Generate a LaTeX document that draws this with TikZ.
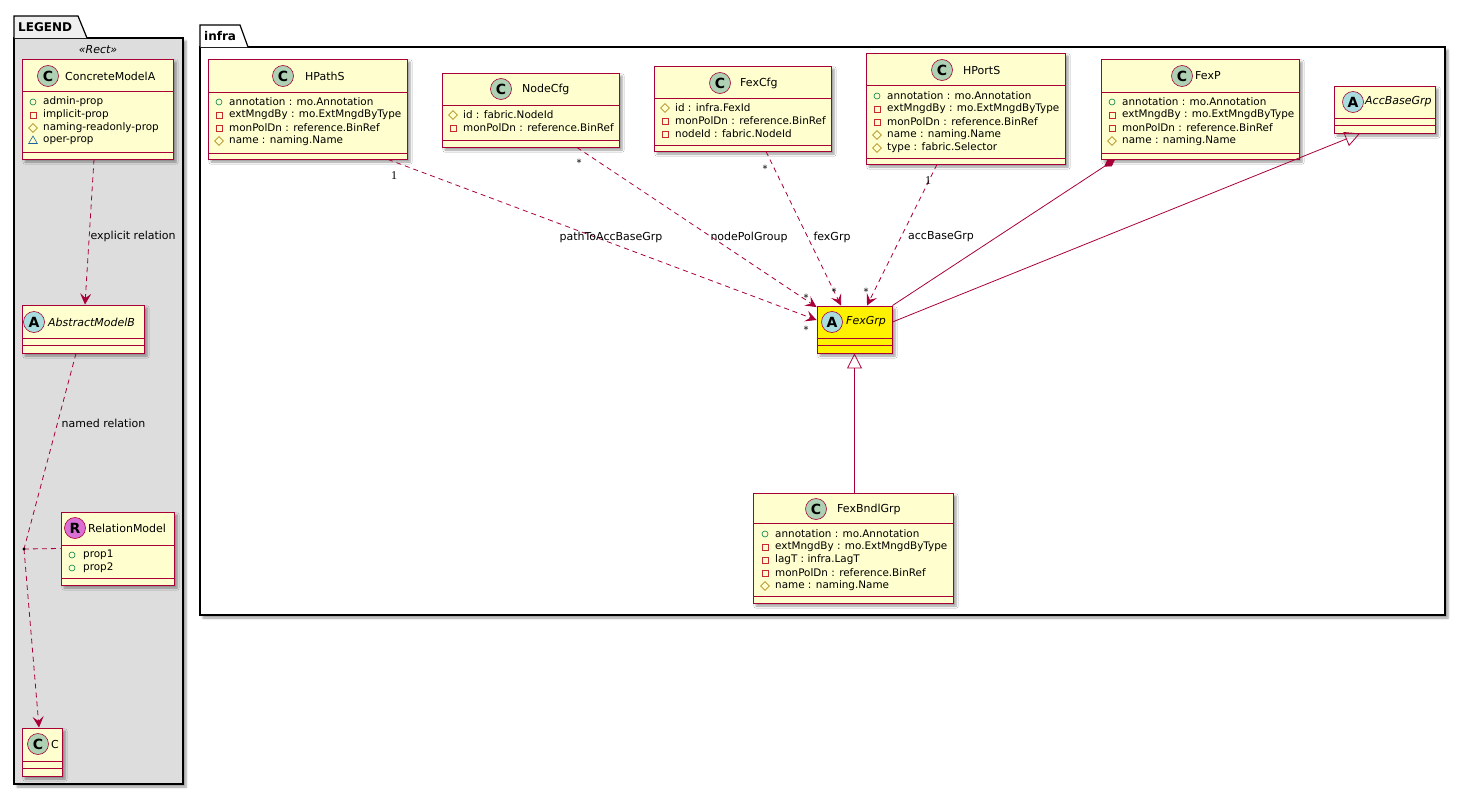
\documentclass[tikz,border=0pt]{standalone}
\usepackage{fontspec}
\setmainfont{DejaVu Sans}
\newfontfamily\multserif{Liberation Serif}
\usetikzlibrary{arrows.meta,fit,shapes.geometric,shadows.blur}
\definecolor{umlred}{HTML}{A80036}
\definecolor{umlfill}{HTML}{FEFECE}
\definecolor{spotc}{HTML}{ADD1B2}
\definecolor{spota}{HTML}{A9DCDF}
\definecolor{spotr}{HTML}{DA70D6}
\definecolor{pubcol}{HTML}{038048}
\definecolor{privcol}{HTML}{C82930}
\definecolor{protcol}{HTML}{B38D22}
\definecolor{pkgcol}{HTML}{1963A0}
\definecolor{legendgray}{HTML}{DDDDDD}
\definecolor{pkgtab}{HTML}{EFEFEF}
\tikzset{
	classbox/.style={draw=umlred, fill=umlfill, line width=0.9pt, inner sep=0pt, blur shadow={shadow xshift=3pt, shadow yshift=-3pt, shadow blur steps=4}},
	pkgbox/.style={draw=black, line width=1.2pt, inner sep=0pt, blur shadow={shadow xshift=3pt, shadow yshift=-3pt, shadow blur steps=4}},
	pkgline/.style={draw=black, line width=1.2pt},
	pkgtitle/.style={anchor=west, inner sep=0pt, font=\bfseries\fontsize{12}{14}\selectfont},
	stereo/.style={inner sep=0pt, font=\itshape\fontsize{11}{13}\selectfont},
	sepline/.style={draw=umlred, line width=0.9pt},
	spot/.style={circle, draw=umlred, line width=0.6pt, minimum size=21pt, inner sep=0pt, font=\bfseries\fontsize{14}{14}\selectfont},
	clname/.style={anchor=west, inner sep=0pt, font=\fontsize{11}{13}\selectfont},
	absname/.style={clname, font=\itshape\fontsize{11}{13}\selectfont},
	member/.style={anchor=west, inner sep=0pt, font=\fontsize{10.4}{12}\selectfont},
	pub/.style={circle, draw=pubcol, line width=0.6pt, minimum size=6pt, inner sep=0pt},
	priv/.style={rectangle, draw=privcol, line width=0.6pt, minimum size=6pt, inner sep=0pt},
	prot/.style={diamond, draw=protcol, line width=0.6pt, minimum size=9pt, inner sep=0pt},
	pkg/.style={regular polygon, regular polygon sides=3, draw=pkgcol, line width=0.6pt, minimum size=10pt, inner sep=0pt},
	depline/.style={draw=umlred, line width=0.8pt, dash pattern=on 5pt off 4pt},
	dep/.style={depline, -{Stealth[length=11pt, width=11pt, inset=4.5pt]}},
	inh/.style={draw=umlred, line width=0.8pt, -{Triangle[open, length=15pt, width=15pt]}},
	comp/.style={draw=umlred, line width=0.8pt, {Diamond[length=13pt, width=8pt]}-},
	elabel/.style={inner sep=0pt, font=\fontsize{11}{13}\selectfont},
	mult/.style={inner sep=0pt, font=\fontsize{10}{12}\selectfont},
	multone/.style={inner sep=0pt, font=\multserif\fontsize{12}{14}\selectfont}
}
\begin{document}
\begin{tikzpicture}[x=1pt, y=-1pt]
	\useasboundingbox (0,0) rectangle (1465,795);

	\node[pkgbox, fill=legendgray, fit={(14,38) (183,784)}] (legend) {};
	\filldraw[pkgline, fill=pkgtab] (14,38) -- (14,16) -- (78,16) -- (87,38);
	\node[pkgtitle] (legend-t) at (18,27) {LEGEND};
	\node[stereo] (legend-s) at (98,50) {«Rect»};

	\node[pkgbox, fill=white, fit={(200,47) (1445,615)}] (infra) {};
	\filldraw[pkgline, fill=white] (200,47) -- (200,25) -- (240,25) -- (248,47);
	\node[pkgtitle] (infra-t) at (204,36) {infra};

	\node[classbox, fit={(22,59) (173,159)}] (concretea) {};
	\draw[sepline] (22,91) -- (173,91) (22,152) -- (173,152);
	\node[spot, fill=spotc] (concretea-c) at (48,76) {C};
	\node[clname] (concretea-n) at (65,76) {ConcreteModelA};
	\foreach \ic/\txt [count=\k] in {pub/admin-prop, priv/implicit-prop, prot/naming-readonly-prop, pkg/oper-prop}
		{\node[\ic] (concretea-i\k) at (33,89+13*\k) {};
		\node[member] (concretea-m\k) at (43,89+13*\k) {\txt};}

	\node[classbox, fit={(22,305) (144,353)}] (absb) {};
	\draw[sepline] (22,338) -- (144,338) (22,345) -- (144,345);
	\node[spot, fill=spota] (absb-c) at (34,322) {A};
	\node[absname] (absb-n) at (48,322) {AbstractModelB};

	\node[classbox, fit={(61,512) (174,585)}] (relm) {};
	\draw[sepline] (61,545) -- (174,545) (61,578) -- (174,578);
	\node[spot, fill=spotr] (relm-c) at (75,528) {R};
	\node[clname] (relm-n) at (88,528) {RelationModel};
	\foreach \txt [count=\k] in {prop1, prop2}
		{\node[pub] (relm-i\k) at (72,542+13*\k) {};
		\node[member] (relm-m\k) at (83,542+13*\k) {\txt};}

	\node[classbox, fit={(22,728) (62,776)}] (cbox) {};
	\draw[sepline] (22,761) -- (62,761) (22,768) -- (62,768);
	\node[spot, fill=spotc] (cbox-c) at (38,744) {C};
	\node[clname] (cbox-n) at (51,744) {C};

	\coordinate (relpt) at (24,549);
	\draw[dep] ([xshift=-3.5pt]concretea.south) -- node[elabel, pos=0.53, anchor=west, xshift=1pt] {explicit relation} ([xshift=2pt]absb.north);
	\draw[depline] ([xshift=-7pt]absb.south) -- node[elabel, pos=0.36, anchor=west, xshift=4pt] {named relation} (relpt);
	\draw[dep] (relpt) -- ([xshift=-3pt]cbox.north);
	\draw[depline] (relpt) -- (relm.west);
	\fill (relpt) circle (1.6pt);

	\node[classbox, fit={(208,59) (407,159)}] (hpaths) {};
	\draw[sepline] (208,92) -- (407,92) (208,153) -- (407,153);
	\node[spot, fill=spotc] (hpaths-c) at (283,76) {C};
	\node[clname] (hpaths-n) at (305,76) {HPathS};
	\foreach \ic/\txt [count=\k] in {pub/annotation : mo.Annotation, priv/extMngdBy : mo.ExtMngdByType, priv/monPolDn : reference.BinRef, prot/name : naming.Name}
		{\node[\ic] (hpaths-i\k) at (219,89+13*\k) {};
		\node[member] (hpaths-m\k) at (229,89+13*\k) {\txt};}

	\node[classbox, fit={(442,73) (619,147)}] (nodecfg) {};
	\draw[sepline] (442,105) -- (619,105) (442,140) -- (619,140);
	\node[spot, fill=spotc] (nodecfg-c) at (501,89) {C};
	\node[clname] (nodecfg-n) at (522,89) {NodeCfg};
	\foreach \ic/\txt [count=\k] in {prot/id : fabric.NodeId, priv/monPolDn : reference.BinRef}
		{\node[\ic] (nodecfg-i\k) at (453,102+13*\k) {};
		\node[member] (nodecfg-m\k) at (463,102+13*\k) {\txt};}

	\node[classbox, fit={(654,66) (831,151)}] (fexcfg) {};
	\draw[sepline] (654,98) -- (831,98) (654,145) -- (831,145);
	\node[spot, fill=spotc] (fexcfg-c) at (720,83) {C};
	\node[clname] (fexcfg-n) at (740,83) {FexCfg};
	\foreach \ic/\txt [count=\k] in {prot/id : infra.FexId, priv/monPolDn : reference.BinRef, priv/nodeId : fabric.NodeId}
		{\node[\ic] (fexcfg-i\k) at (665,95+13*\k) {};
		\node[member] (fexcfg-m\k) at (675,95+13*\k) {\txt};}

	\node[classbox, fit={(866,53) (1065,164)}] (hports) {};
	\draw[sepline] (866,85) -- (1065,85) (866,158) -- (1065,158);
	\node[spot, fill=spotc] (hports-c) at (942,70) {C};
	\node[clname] (hports-n) at (963,70) {HPortS};
	\foreach \ic/\txt [count=\k] in {pub/annotation : mo.Annotation, priv/extMngdBy : mo.ExtMngdByType, priv/monPolDn : reference.BinRef, prot/name : naming.Name, prot/type : fabric.Selector}
		{\node[\ic] (hports-i\k) at (877,83+13*\k) {};
		\node[member] (hports-m\k) at (887,83+13*\k) {\txt};}

	\node[classbox, fit={(1101,59) (1299,159)}] (fexp) {};
	\draw[sepline] (1101,92) -- (1299,92) (1101,153) -- (1299,153);
	\node[spot, fill=spotc] (fexp-c) at (1182,76) {C};
	\node[clname] (fexp-n) at (1195,76) {FexP};
	\foreach \ic/\txt [count=\k] in {pub/annotation : mo.Annotation, priv/extMngdBy : mo.ExtMngdByType, priv/monPolDn : reference.BinRef, prot/name : naming.Name}
		{\node[\ic] (fexp-i\k) at (1112,89+13*\k) {};
		\node[member] (fexp-m\k) at (1122,89+13*\k) {\txt};}

	\node[classbox, fit={(1334,86) (1435,133)}] (accbase) {};
	\draw[sepline] (1334,118) -- (1435,118) (1334,125) -- (1435,125);
	\node[spot, fill=spota] (accbase-c) at (1353,102) {A};
	\node[absname] (accbase-n) at (1365,102) {AccBaseGrp};

	\node[classbox, fill=yellow, fit={(817,306) (892,353)}] (fexgrp) {};
	\draw[sepline] (817,338) -- (892,338) (817,345) -- (892,345);
	\node[spot, fill=spota] (fexgrp-c) at (832,322) {A};
	\node[absname] (fexgrp-n) at (846,322) {FexGrp};

	\node[classbox, fit={(753,493) (953,603)}] (fexbndl) {};
	\draw[sepline] (753,523) -- (953,523) (753,596) -- (953,596);
	\node[spot, fill=spotc] (fexbndl-c) at (816,509) {C};
	\node[clname] (fexbndl-n) at (837,509) {FexBndlGrp};
	\foreach \ic/\txt [count=\k] in {pub/annotation : mo.Annotation, priv/extMngdBy : mo.ExtMngdByType, priv/lagT : infra.LagT, priv/monPolDn : reference.BinRef, prot/name : naming.Name}
		{\node[\ic] (fexbndl-i\k) at (765,521+13*\k) {};
		\node[member] (fexbndl-m\k) at (775,521+13*\k) {\txt};}

	\draw[dep] ([xshift=80.5pt]hpaths.south) -- ([yshift=9.5pt]fexgrp.west);
	\draw[dep] ([xshift=46.5pt]nodecfg.south) -- ([yshift=-1.5pt]fexgrp.north west);
	\draw[dep] ([xshift=23.5pt]fexcfg.south) -- ([xshift=-13.5pt]fexgrp.north);
	\draw[dep] ([xshift=-28.5pt]hports.south) -- ([xshift=12.5pt]fexgrp.north);
	\draw[comp] ([xshift=-85pt]fexp.south) -- (fexgrp.north east);
	\draw[inh] ([yshift=7.5pt]fexgrp.east) -- ([xshift=-24.5pt]accbase.south);
	\draw[inh] (fexbndl.north -| fexgrp.south) -- (fexgrp.south);

	\node[elabel] (lbl-path) at (611,237) {pathToAccBaseGrp};
	\node[elabel] (lbl-node) at (749,237) {nodePolGroup};
	\node[elabel] (lbl-fex) at (832,237) {fexGrp};
	\node[elabel] (lbl-acc) at (941,237) {accBaseGrp};

	\node[multone] (m-hpaths) at (394,176) {1};
	\node[mult] (m-nodecfg) at (579,163) {*};
	\node[mult] (m-fexcfg) at (765,169) {*};
	\node[multone] (m-hports) at (928,181) {1};
	\node[mult] (m-fg1) at (806,298) {*};
	\node[mult] (m-fg2) at (806,330) {*};
	\node[mult] (m-fg3) at (834,292) {*};
	\node[mult] (m-fg4) at (866,292) {*};
\end{tikzpicture}
\end{document}
